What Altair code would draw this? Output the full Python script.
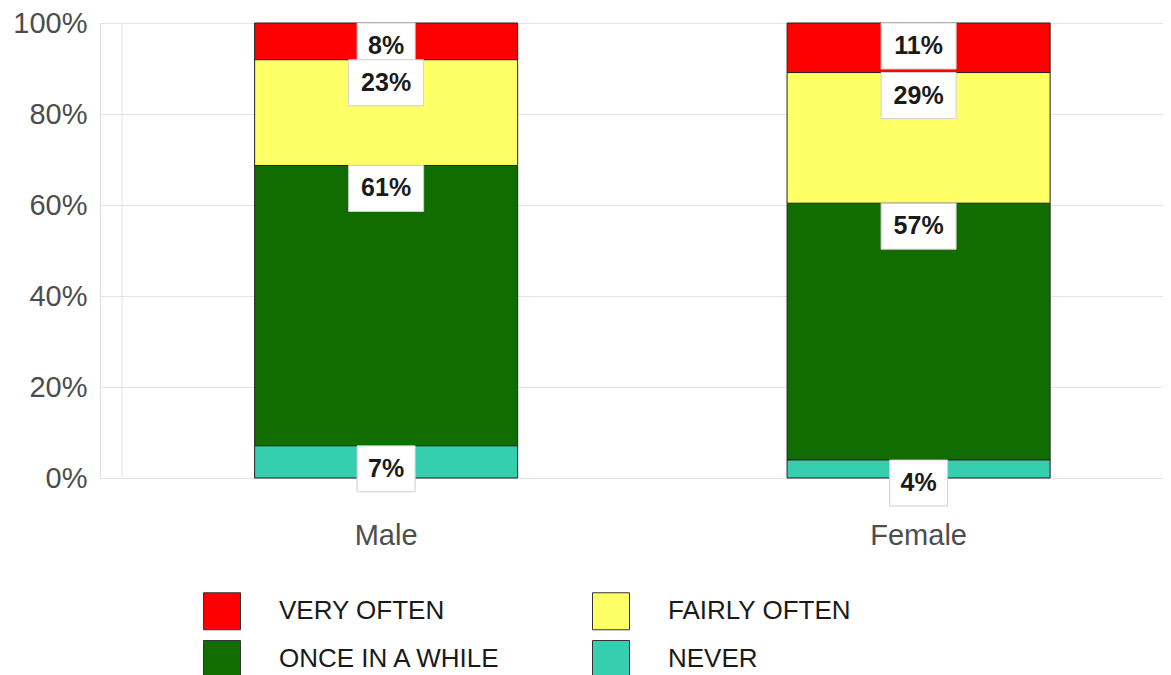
import altair as alt
import pandas as pd

genders = ["Male", "Female"]
categories = ["VERY OFTEN", "ONCE IN A WHILE", "FAIRLY OFTEN", "NEVER"]
stack_order = [3, 1, 2, 0]
male_pct = [8, 61, 23, 7]
female_pct = [11, 57, 29, 4]
colors = ["#FF0000", "#116D00", "#FFFF66", "#35CEAF"]
y_ticks = [0, 0.2, 0.4, 0.6, 0.8, 1.0]

rows = []
for g, vals in zip(genders, [male_pct, female_pct]):
    for c, o, v in zip(categories, stack_order, vals):
        rows.append({"gender": g, "category": c, "order": o, "value": v, "label": f"{v}%"})
df = pd.DataFrame(rows)

FONT = "Liberation Sans"
GRID = "#e3e3e3"

base = alt.Chart(df).transform_stack(
    stack="value", groupby=["gender"], as_=["y0", "y1"],
    sort=[alt.SortField("order", "ascending")], offset="normalize"
)

x_enc = alt.X(
    "gender:N", sort=genders,
    scale=alt.Scale(paddingInner=0.506, paddingOuter=0.2512, align=0.578),
    axis=alt.Axis(title=None, labelAngle=0, labelFontSize=29, labelColor="#4d4d4d",
                  labelFont=FONT, labelPadding=57, labelBaseline="middle",
                  ticks=False, tickSize=0, domain=False, grid=True,
                  gridColor=GRID, bandPosition=0.5),
)
y_scale = alt.Scale(domain=[0, 1], nice=False)

bars = base.mark_bar(stroke="#222222", strokeWidth=1, opacity=1).encode(
    x=x_enc,
    y=alt.Y("y0:Q", scale=y_scale,
            axis=alt.Axis(title=None, format=".0%", values=y_ticks, labelFontSize=29,
                          labelColor="#4d4d4d", labelFont=FONT, labelPadding=13,
                          ticks=False, domain=False, gridColor=GRID)),
    y2="y1:Q",
    color=alt.Color(
        "category:N",
        scale=alt.Scale(domain=categories, range=colors),
        legend=alt.Legend(
            title=None, orient="none", legendX=103, legendY=569, columns=2,
            symbolType="square", symbolSize=1369, symbolStrokeColor="#333333",
            symbolStrokeWidth=1, symbolOpacity=1, labelFontSize=26, labelFont=FONT,
            labelColor="#1a1a1a", labelOffset=38, rowPadding=6, columnPadding=88,
            labelLimit=500,
        ),
    ),
)

boxes_small = base.transform_calculate(n="length(datum.label)").transform_filter(
    "datum.n <= 2"
).mark_rect(width=58, height=46, yOffset=23, fill="white", stroke="#d0d0d0",
            strokeWidth=1).encode(x=x_enc, y=alt.Y("y1:Q", scale=y_scale))

boxes_big = base.transform_calculate(n="length(datum.label)").transform_filter(
    "datum.n > 2"
).mark_rect(width=75, height=46, yOffset=23, fill="white", stroke="#d0d0d0",
            strokeWidth=1).encode(x=x_enc, y=alt.Y("y1:Q", scale=y_scale))

texts = base.mark_text(fontSize=25, fontWeight="bold", font=FONT, dy=23,
                       baseline="middle", align="center", color="#1a1a1a").encode(
    x=x_enc, y=alt.Y("y1:Q", scale=y_scale), text="label:N"
)

vline = alt.Chart(alt.Data(values=[{"a": 1}])).mark_rule(color=GRID, strokeWidth=1).encode(
    x=alt.value(22), y=alt.value(0), y2=alt.value(455)
)

chart = alt.layer(vline, bars, boxes_small, boxes_big, texts).properties(
    width=1063, height=455,
    autosize=alt.AutoSizeParams(type="none"),
    padding={"left": 92, "top": 15, "right": 0, "bottom": 197},
).configure_view(stroke=None).configure(font=FONT)

chart.save("out.html", embed_options={"renderer": "svg", "actions": False})
